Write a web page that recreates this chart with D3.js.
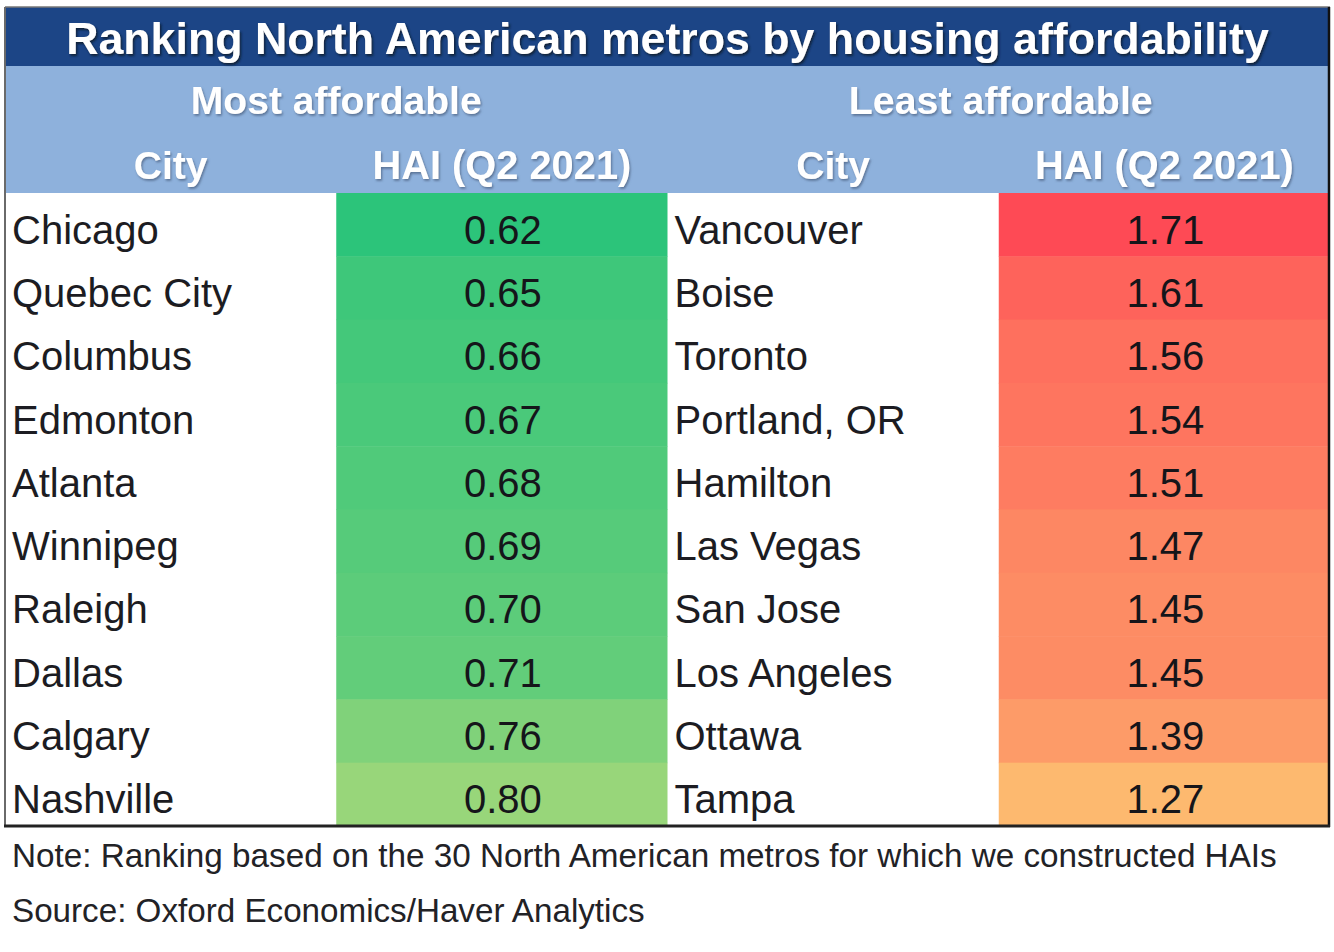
<!DOCTYPE html>
<html>
<head>
<meta charset="utf-8">
<script src="https://cdn.jsdelivr.net/npm/d3@7"></script>
<style>
  html, body { margin: 0; padding: 0; background: #ffffff; }
  svg { display: block; }
  text { font-family: "Liberation Sans", Arial, sans-serif; }
</style>
</head>
<body>
<svg id="chart" width="1334" height="952"></svg>
<script>
// ---- data ----
const title = "Ranking North American metros by housing affordability";
const groupLabels = ["Most affordable", "Least affordable"];
const columnLabels = ["City", "HAI (Q2 2021)", "City", "HAI (Q2 2021)"];
const mostCities = ["Chicago", "Quebec City", "Columbus", "Edmonton", "Atlanta", "Winnipeg", "Raleigh", "Dallas", "Calgary", "Nashville"];
const mostHAI = [0.62, 0.65, 0.66, 0.67, 0.68, 0.69, 0.70, 0.71, 0.76, 0.80];
const leastCities = ["Vancouver", "Boise", "Toronto", "Portland, OR", "Hamilton", "Las Vegas", "San Jose", "Los Angeles", "Ottawa", "Tampa"];
const leastHAI = [1.71, 1.61, 1.56, 1.54, 1.51, 1.47, 1.45, 1.45, 1.39, 1.27];
const noteText = "Note: Ranking based on the 30 North American metros for which we constructed HAIs";
const sourceText = "Source: Oxford Economics/Haver Analytics";

// ---- layout ----
const svg = d3.select("#chart");
const left = 5, right = 1330;
const titleTop = 7, titleBottom = 66, headerBottom = 193, tableBottom = 826;

const defs = svg.append("defs");
const f1 = defs.append("filter").attr("id", "shadowDark").attr("x", "-5%").attr("y", "-30%").attr("width", "110%").attr("height", "160%");
f1.append("feDropShadow").attr("dx", 1.5).attr("dy", 2).attr("stdDeviation", 1.2).attr("flood-color", "#0a1a33").attr("flood-opacity", 0.9);
const f2 = defs.append("filter").attr("id", "shadowSoft").attr("x", "-5%").attr("y", "-30%").attr("width", "110%").attr("height", "160%");
f2.append("feDropShadow").attr("dx", 1.2).attr("dy", 1.8).attr("stdDeviation", 1.2).attr("flood-color", "#4a5f80").attr("flood-opacity", 0.75);

const colKeys = ["city1", "hai1", "city2", "hai2"];
const x = d3.scaleBand().domain(colKeys).range([left, right]);
const halves = d3.scaleBand().domain([0, 1]).range([left, right]);
const y = d3.scaleBand().domain(d3.range(mostCities.length)).range([headerBottom, tableBottom]);

const color = d3.scaleLinear()
  .domain([0.62, 0.80, 1.27, 1.71])
  .range(["#2cc47a", "#98d67a", "#fdb96f", "#fe4a55"])
  .interpolate(d3.interpolateRgb);

function fit(sel, target) {
  const node = sel.node();
  const fs = parseFloat(sel.attr("font-size"));
  const w = node.getComputedTextLength();
  if (w > 0) sel.attr("font-size", fs * target / w);
  return sel;
}

// title bar
svg.append("rect").attr("x", left).attr("y", titleTop).attr("width", right - left).attr("height", titleBottom - titleTop).attr("fill", "#1c4586");
// header band
svg.append("rect").attr("x", left).attr("y", titleBottom).attr("width", right - left).attr("height", headerBottom - titleBottom).attr("fill", "#8eb1dc");

const tt = svg.append("text").attr("x", (left + right) / 2).attr("y", 54)
  .attr("text-anchor", "middle").attr("font-weight", "bold").attr("font-size", 42)
  .attr("fill", "#ffffff").attr("filter", "url(#shadowDark)").text(title);
fit(tt, 1203);

groupLabels.forEach((g, i) => {
  const t = svg.append("text").attr("x", halves(i) + halves.bandwidth() / 2 + (i === 0 ? 0 : 2)).attr("y", 114)
    .attr("text-anchor", "middle").attr("font-weight", "bold").attr("font-size", 38)
    .attr("fill", "#ffffff").attr("filter", "url(#shadowSoft)").text(g);
  fit(t, i === 0 ? 291 : 304);
});

columnLabels.forEach((c, i) => {
  const t = svg.append("text").attr("x", x(colKeys[i]) + x.bandwidth() / 2).attr("y", 179)
    .attr("text-anchor", "middle").attr("font-weight", "bold").attr("font-size", 40)
    .attr("fill", "#ffffff").attr("filter", "url(#shadowSoft)").text(c);
  fit(t, c === "City" ? 74 : 259);
});

// data body
svg.append("rect").attr("x", left).attr("y", headerBottom).attr("width", right - left).attr("height", tableBottom - headerBottom).attr("fill", "#ffffff");

function drawSide(cities, vals, cityKey, haiKey) {
  const g = svg.append("g");
  g.selectAll("rect.cell").data(vals).join("rect")
    .attr("class", "cell")
    .attr("x", x(haiKey)).attr("y", (d, i) => y(i))
    .attr("width", x.bandwidth()).attr("height", y.bandwidth() + 0.5)
    .attr("fill", d => color(d));
  g.selectAll("text.city").data(cities).join("text")
    .attr("class", "city")
    .attr("x", x(cityKey) + 7).attr("y", (d, i) => y(i) + y.bandwidth() / 2 + 19)
    .attr("font-size", 40).attr("fill", "#1c1c22").text(d => d);
  g.selectAll("text.val").data(vals).join("text")
    .attr("class", "val")
    .attr("x", x(haiKey) + x.bandwidth() / 2 + 1).attr("y", (d, i) => y(i) + y.bandwidth() / 2 + 19)
    .attr("text-anchor", "middle").attr("font-size", 40).attr("fill", "#15151a")
    .text(d => d3.format(".2f")(d));
}
drawSide(mostCities, mostHAI, "city1", "hai1");
drawSide(leastCities, leastHAI, "city2", "hai2");

// borders
svg.append("line").attr("x1", left).attr("x2", right).attr("y1", titleTop).attr("y2", titleTop).attr("stroke", "#777").attr("stroke-width", 1.5);
svg.append("line").attr("x1", left).attr("x2", left).attr("y1", titleTop).attr("y2", tableBottom).attr("stroke", "#6a6a6a").attr("stroke-width", 2);
svg.append("line").attr("x1", right - 1).attr("x2", right - 1).attr("y1", titleTop).attr("y2", tableBottom + 1).attr("stroke", "#111").attr("stroke-width", 2.5);
svg.append("line").attr("x1", left - 1).attr("x2", right).attr("y1", tableBottom).attr("y2", tableBottom).attr("stroke", "#222").attr("stroke-width", 3);

// notes
const n1 = svg.append("text").attr("x", 12).attr("y", 867).attr("font-size", 29).attr("fill", "#222226").text(noteText);
fit(n1, 1265);
const n2 = svg.append("text").attr("x", 12).attr("y", 922).attr("font-size", 29).attr("fill", "#222226").text(sourceText);
fit(n2, 633);
</script>
</body>
</html>
